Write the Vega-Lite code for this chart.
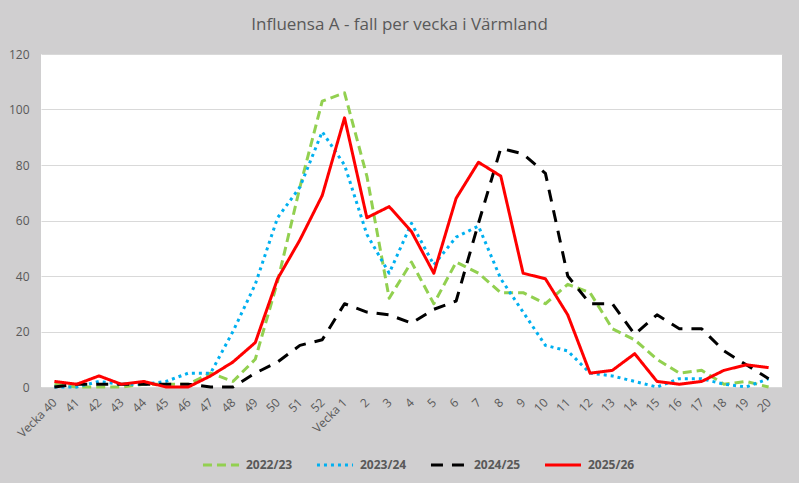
{
  "$schema": "https://vega.github.io/schema/vega-lite/v6.json",
  "width": 741,
  "height": 333,
  "autosize": {"type": "none"},
  "padding": {"left": 41, "top": 54, "right": 17, "bottom": 96},
  "background": "#d0cfd0",
  "title": {
    "text": "Influensa A - fall per vecka i Värmland",
    "anchor": "middle",
    "dx": -12,
    "offset": 14,
    "font": "Open Sans",
    "fontSize": 17,
    "fontWeight": "normal",
    "color": "#595959"
  },
  "config": {
    "font": "Open Sans",
    "view": {"fill": "white", "stroke": null}
  },
  "data": {
    "values": [
      {"week": "Vecka 40", "season": "2022/23", "cases": 1},
      {"week": "41", "season": "2022/23", "cases": 0},
      {"week": "42", "season": "2022/23", "cases": 0},
      {"week": "43", "season": "2022/23", "cases": 0},
      {"week": "44", "season": "2022/23", "cases": 1},
      {"week": "45", "season": "2022/23", "cases": 1},
      {"week": "46", "season": "2022/23", "cases": 1},
      {"week": "47", "season": "2022/23", "cases": 5},
      {"week": "48", "season": "2022/23", "cases": 2},
      {"week": "49", "season": "2022/23", "cases": 10},
      {"week": "50", "season": "2022/23", "cases": 38},
      {"week": "51", "season": "2022/23", "cases": 72},
      {"week": "52", "season": "2022/23", "cases": 103},
      {"week": "Vecka 1", "season": "2022/23", "cases": 106},
      {"week": "2", "season": "2022/23", "cases": 76},
      {"week": "3", "season": "2022/23", "cases": 32},
      {"week": "4", "season": "2022/23", "cases": 45},
      {"week": "5", "season": "2022/23", "cases": 30},
      {"week": "6", "season": "2022/23", "cases": 45},
      {"week": "7", "season": "2022/23", "cases": 41},
      {"week": "8", "season": "2022/23", "cases": 34},
      {"week": "9", "season": "2022/23", "cases": 34},
      {"week": "10", "season": "2022/23", "cases": 30},
      {"week": "11", "season": "2022/23", "cases": 37},
      {"week": "12", "season": "2022/23", "cases": 34},
      {"week": "13", "season": "2022/23", "cases": 21},
      {"week": "14", "season": "2022/23", "cases": 17},
      {"week": "15", "season": "2022/23", "cases": 10},
      {"week": "16", "season": "2022/23", "cases": 5},
      {"week": "17", "season": "2022/23", "cases": 6},
      {"week": "18", "season": "2022/23", "cases": 1},
      {"week": "19", "season": "2022/23", "cases": 2},
      {"week": "20", "season": "2022/23", "cases": 0},
      {"week": "Vecka 40", "season": "2023/24", "cases": 0},
      {"week": "41", "season": "2023/24", "cases": 0},
      {"week": "42", "season": "2023/24", "cases": 2},
      {"week": "43", "season": "2023/24", "cases": 1},
      {"week": "44", "season": "2023/24", "cases": 1},
      {"week": "45", "season": "2023/24", "cases": 2},
      {"week": "46", "season": "2023/24", "cases": 5},
      {"week": "47", "season": "2023/24", "cases": 5},
      {"week": "48", "season": "2023/24", "cases": 20},
      {"week": "49", "season": "2023/24", "cases": 37},
      {"week": "50", "season": "2023/24", "cases": 61},
      {"week": "51", "season": "2023/24", "cases": 72},
      {"week": "52", "season": "2023/24", "cases": 92},
      {"week": "Vecka 1", "season": "2023/24", "cases": 80},
      {"week": "2", "season": "2023/24", "cases": 55},
      {"week": "3", "season": "2023/24", "cases": 41},
      {"week": "4", "season": "2023/24", "cases": 59},
      {"week": "5", "season": "2023/24", "cases": 44},
      {"week": "6", "season": "2023/24", "cases": 54},
      {"week": "7", "season": "2023/24", "cases": 58},
      {"week": "8", "season": "2023/24", "cases": 39},
      {"week": "9", "season": "2023/24", "cases": 27},
      {"week": "10", "season": "2023/24", "cases": 15},
      {"week": "11", "season": "2023/24", "cases": 13},
      {"week": "12", "season": "2023/24", "cases": 5},
      {"week": "13", "season": "2023/24", "cases": 4},
      {"week": "14", "season": "2023/24", "cases": 2},
      {"week": "15", "season": "2023/24", "cases": 0},
      {"week": "16", "season": "2023/24", "cases": 3},
      {"week": "17", "season": "2023/24", "cases": 3},
      {"week": "18", "season": "2023/24", "cases": 1},
      {"week": "19", "season": "2023/24", "cases": 0},
      {"week": "20", "season": "2023/24", "cases": 3},
      {"week": "Vecka 40", "season": "2024/25", "cases": 0},
      {"week": "41", "season": "2024/25", "cases": 1},
      {"week": "42", "season": "2024/25", "cases": 1},
      {"week": "43", "season": "2024/25", "cases": 1},
      {"week": "44", "season": "2024/25", "cases": 1},
      {"week": "45", "season": "2024/25", "cases": 1},
      {"week": "46", "season": "2024/25", "cases": 1},
      {"week": "47", "season": "2024/25", "cases": 0},
      {"week": "48", "season": "2024/25", "cases": 0},
      {"week": "49", "season": "2024/25", "cases": 5},
      {"week": "50", "season": "2024/25", "cases": 9},
      {"week": "51", "season": "2024/25", "cases": 15},
      {"week": "52", "season": "2024/25", "cases": 17},
      {"week": "Vecka 1", "season": "2024/25", "cases": 30},
      {"week": "2", "season": "2024/25", "cases": 27},
      {"week": "3", "season": "2024/25", "cases": 26},
      {"week": "4", "season": "2024/25", "cases": 23},
      {"week": "5", "season": "2024/25", "cases": 28},
      {"week": "6", "season": "2024/25", "cases": 31},
      {"week": "7", "season": "2024/25", "cases": 59},
      {"week": "8", "season": "2024/25", "cases": 86},
      {"week": "9", "season": "2024/25", "cases": 84},
      {"week": "10", "season": "2024/25", "cases": 77},
      {"week": "11", "season": "2024/25", "cases": 40},
      {"week": "12", "season": "2024/25", "cases": 30},
      {"week": "13", "season": "2024/25", "cases": 30},
      {"week": "14", "season": "2024/25", "cases": 19},
      {"week": "15", "season": "2024/25", "cases": 26},
      {"week": "16", "season": "2024/25", "cases": 21},
      {"week": "17", "season": "2024/25", "cases": 21},
      {"week": "18", "season": "2024/25", "cases": 13},
      {"week": "19", "season": "2024/25", "cases": 8},
      {"week": "20", "season": "2024/25", "cases": 3},
      {"week": "Vecka 40", "season": "2025/26", "cases": 2},
      {"week": "41", "season": "2025/26", "cases": 1},
      {"week": "42", "season": "2025/26", "cases": 4},
      {"week": "43", "season": "2025/26", "cases": 1},
      {"week": "44", "season": "2025/26", "cases": 2},
      {"week": "45", "season": "2025/26", "cases": 0},
      {"week": "46", "season": "2025/26", "cases": 0},
      {"week": "47", "season": "2025/26", "cases": 4},
      {"week": "48", "season": "2025/26", "cases": 9},
      {"week": "49", "season": "2025/26", "cases": 16},
      {"week": "50", "season": "2025/26", "cases": 39},
      {"week": "51", "season": "2025/26", "cases": 53},
      {"week": "52", "season": "2025/26", "cases": 69},
      {"week": "Vecka 1", "season": "2025/26", "cases": 97},
      {"week": "2", "season": "2025/26", "cases": 61},
      {"week": "3", "season": "2025/26", "cases": 65},
      {"week": "4", "season": "2025/26", "cases": 56},
      {"week": "5", "season": "2025/26", "cases": 41},
      {"week": "6", "season": "2025/26", "cases": 68},
      {"week": "7", "season": "2025/26", "cases": 81},
      {"week": "8", "season": "2025/26", "cases": 76},
      {"week": "9", "season": "2025/26", "cases": 41},
      {"week": "10", "season": "2025/26", "cases": 39},
      {"week": "11", "season": "2025/26", "cases": 26},
      {"week": "12", "season": "2025/26", "cases": 5},
      {"week": "13", "season": "2025/26", "cases": 6},
      {"week": "14", "season": "2025/26", "cases": 12},
      {"week": "15", "season": "2025/26", "cases": 2},
      {"week": "16", "season": "2025/26", "cases": 1},
      {"week": "17", "season": "2025/26", "cases": 2},
      {"week": "18", "season": "2025/26", "cases": 6},
      {"week": "19", "season": "2025/26", "cases": 8},
      {"week": "20", "season": "2025/26", "cases": 7}
    ]
  },
  "mark": {"type": "line", "strokeJoin": "round"},
  "encoding": {
    "x": {
      "field": "week",
      "type": "ordinal",
      "sort": null,
      "scale": {"type": "point", "padding": 0.6},
      "title": null,
      "axis": {
        "labelAngle": -45,
        "labelAlign": "right",
        "labelBaseline": "middle",
        "labelColor": "#595959",
        "labelFontSize": 12,
        "labelPadding": 13,
        "ticks": false,
        "tickSize": 0,
        "domain": false,
        "grid": false
      }
    },
    "y": {
      "field": "cases",
      "type": "quantitative",
      "title": null,
      "scale": {"domain": [0, 120], "nice": false},
      "axis": {
        "values": [0, 20, 40, 60, 80, 100, 120],
        "labelColor": "#595959",
        "labelFontSize": 12,
        "labelPadding": 12,
        "ticks": false,
        "tickSize": 0,
        "domain": false,
        "gridColor": "#d9d9d9",
        "gridWidth": 1
      }
    },
    "color": {
      "field": "season",
      "type": "nominal",
      "scale": {
        "domain": ["2022/23", "2023/24", "2024/25", "2025/26"],
        "range": ["#92d050", "#00b0f0", "#000000", "#ff0000"]
      },
      "legend": {
        "title": null,
        "orient": "none",
        "direction": "horizontal",
        "legendX": 160,
        "legendY": 391,
        "symbolType": "stroke",
        "symbolSize": 1300,
        "labelFontSize": 12,
        "labelFontWeight": "bold",
        "labelColor": "#595959",
        "labelOffset": 5,
        "columnPadding": 17
      }
    },
    "strokeDash": {
      "field": "season",
      "type": "nominal",
      "scale": {
        "domain": ["2022/23", "2023/24", "2024/25", "2025/26"],
        "range": [[9, 5], [3, 4], [12, 9], [1, 0]]
      },
      "legend": null
    },
    "strokeWidth": {
      "field": "season",
      "type": "nominal",
      "scale": {
        "domain": ["2022/23", "2023/24", "2024/25", "2025/26"],
        "range": [3, 3, 3, 5]
      },
      "legend": null
    }
  }
}
